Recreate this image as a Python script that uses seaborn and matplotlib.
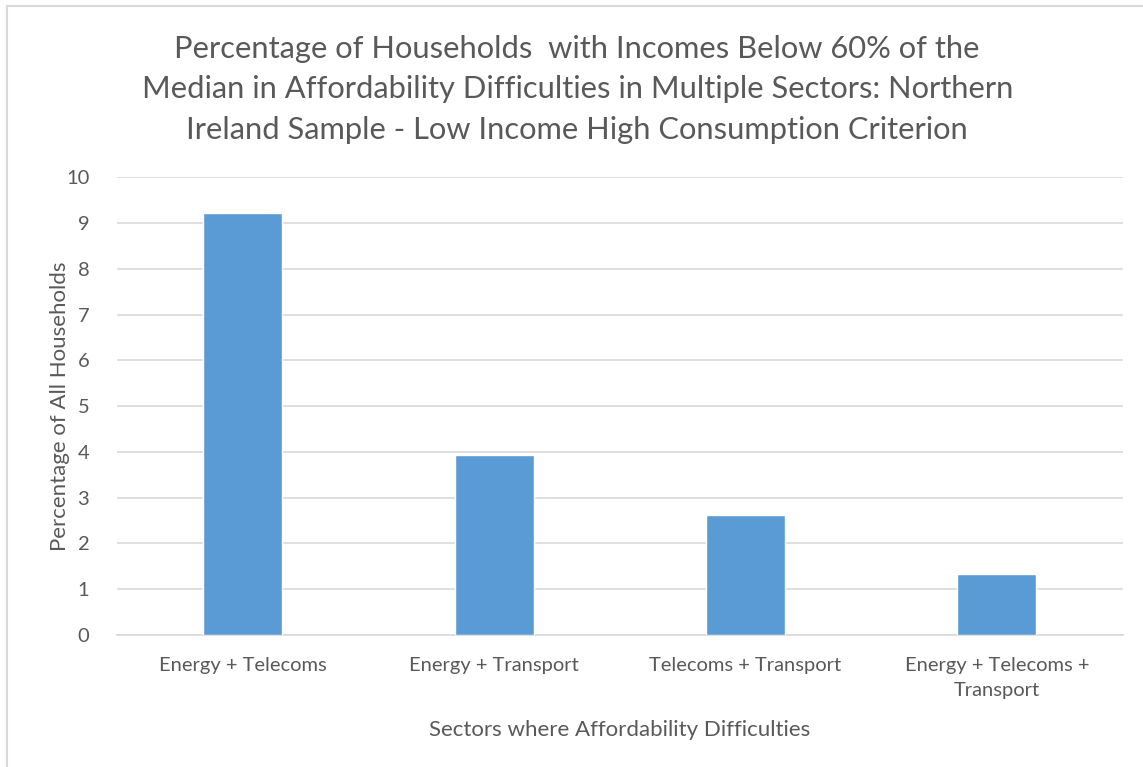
import matplotlib
matplotlib.use("Agg")
import matplotlib.pyplot as plt
import seaborn as sns
import pandas as pd
from matplotlib.lines import Line2D

categories = ["Energy + Telecoms", "Energy + Transport", "Telecoms + Transport",
              "Energy + Telecoms +\nTransport"]
values = [9.21, 3.93, 2.63, 1.33]
y_ticks = list(range(0, 11))

title = ("Percentage of Households  with Incomes Below 60% of the\n"
         "Median in Affordability Difficulties in Multiple Sectors: Northern\n"
         "Ireland Sample - Low Income High Consumption Criterion")
x_label = "Sectors where Affordability Difficulties"
y_label = "Percentage of All Households"

sns.set_theme(style="white")
plt.rcParams["font.family"] = ["Lato", "DejaVu Sans"]

text_color = "#595959"
bar_color = "#5b9bd5"
grid_color = "#d9d9d9"

df = pd.DataFrame({"sector": categories, "pct": values})

fig = plt.figure(figsize=(11.43, 7.67), dpi=100)
ax = fig.add_axes([0.1024, 0.1721, 0.8797, 0.5967])

sns.barplot(data=df, x="sector", y="pct", color=bar_color, width=0.314,
            saturation=1, ax=ax, zorder=3)

ax.set_ylim(0, 10)
ax.set_xlim(-0.5, len(categories) - 0.5)
ax.set_yticks(y_ticks)
ax.yaxis.grid(True, color=grid_color, linewidth=1.2, zorder=0)
ax.xaxis.grid(False)
for side in ["top", "right", "left"]:
    ax.spines[side].set_visible(False)
ax.spines["bottom"].set_color(grid_color)
ax.spines["bottom"].set_linewidth(1.2)
ax.tick_params(axis="both", length=0, colors=text_color, labelsize=14.5)
ax.tick_params(axis="x", pad=16)
ax.tick_params(axis="y", pad=20)
for lbl in ax.get_xticklabels():
    lbl.set_linespacing(1.55)

ax.set_xlabel(x_label, fontsize=16, color=text_color, labelpad=15)
ax.set_ylabel(y_label, fontsize=16, color=text_color, labelpad=-3)

fig.text(0.505, 0.955, title, ha="center", va="top", fontsize=22.2,
         color=text_color, linespacing=1.55)

# light frame along the top and left edges of the chart area
fig.add_artist(Line2D([7 / 1143, 1], [1 - 6 / 767, 1 - 6 / 767],
                      transform=fig.transFigure, color="#d9d9d9", lw=1.5))
fig.add_artist(Line2D([7 / 1143, 7 / 1143], [0, 1 - 6 / 767],
                      transform=fig.transFigure, color="#d9d9d9", lw=1.5))

fig.savefig("out.png", dpi=100, facecolor="white")
